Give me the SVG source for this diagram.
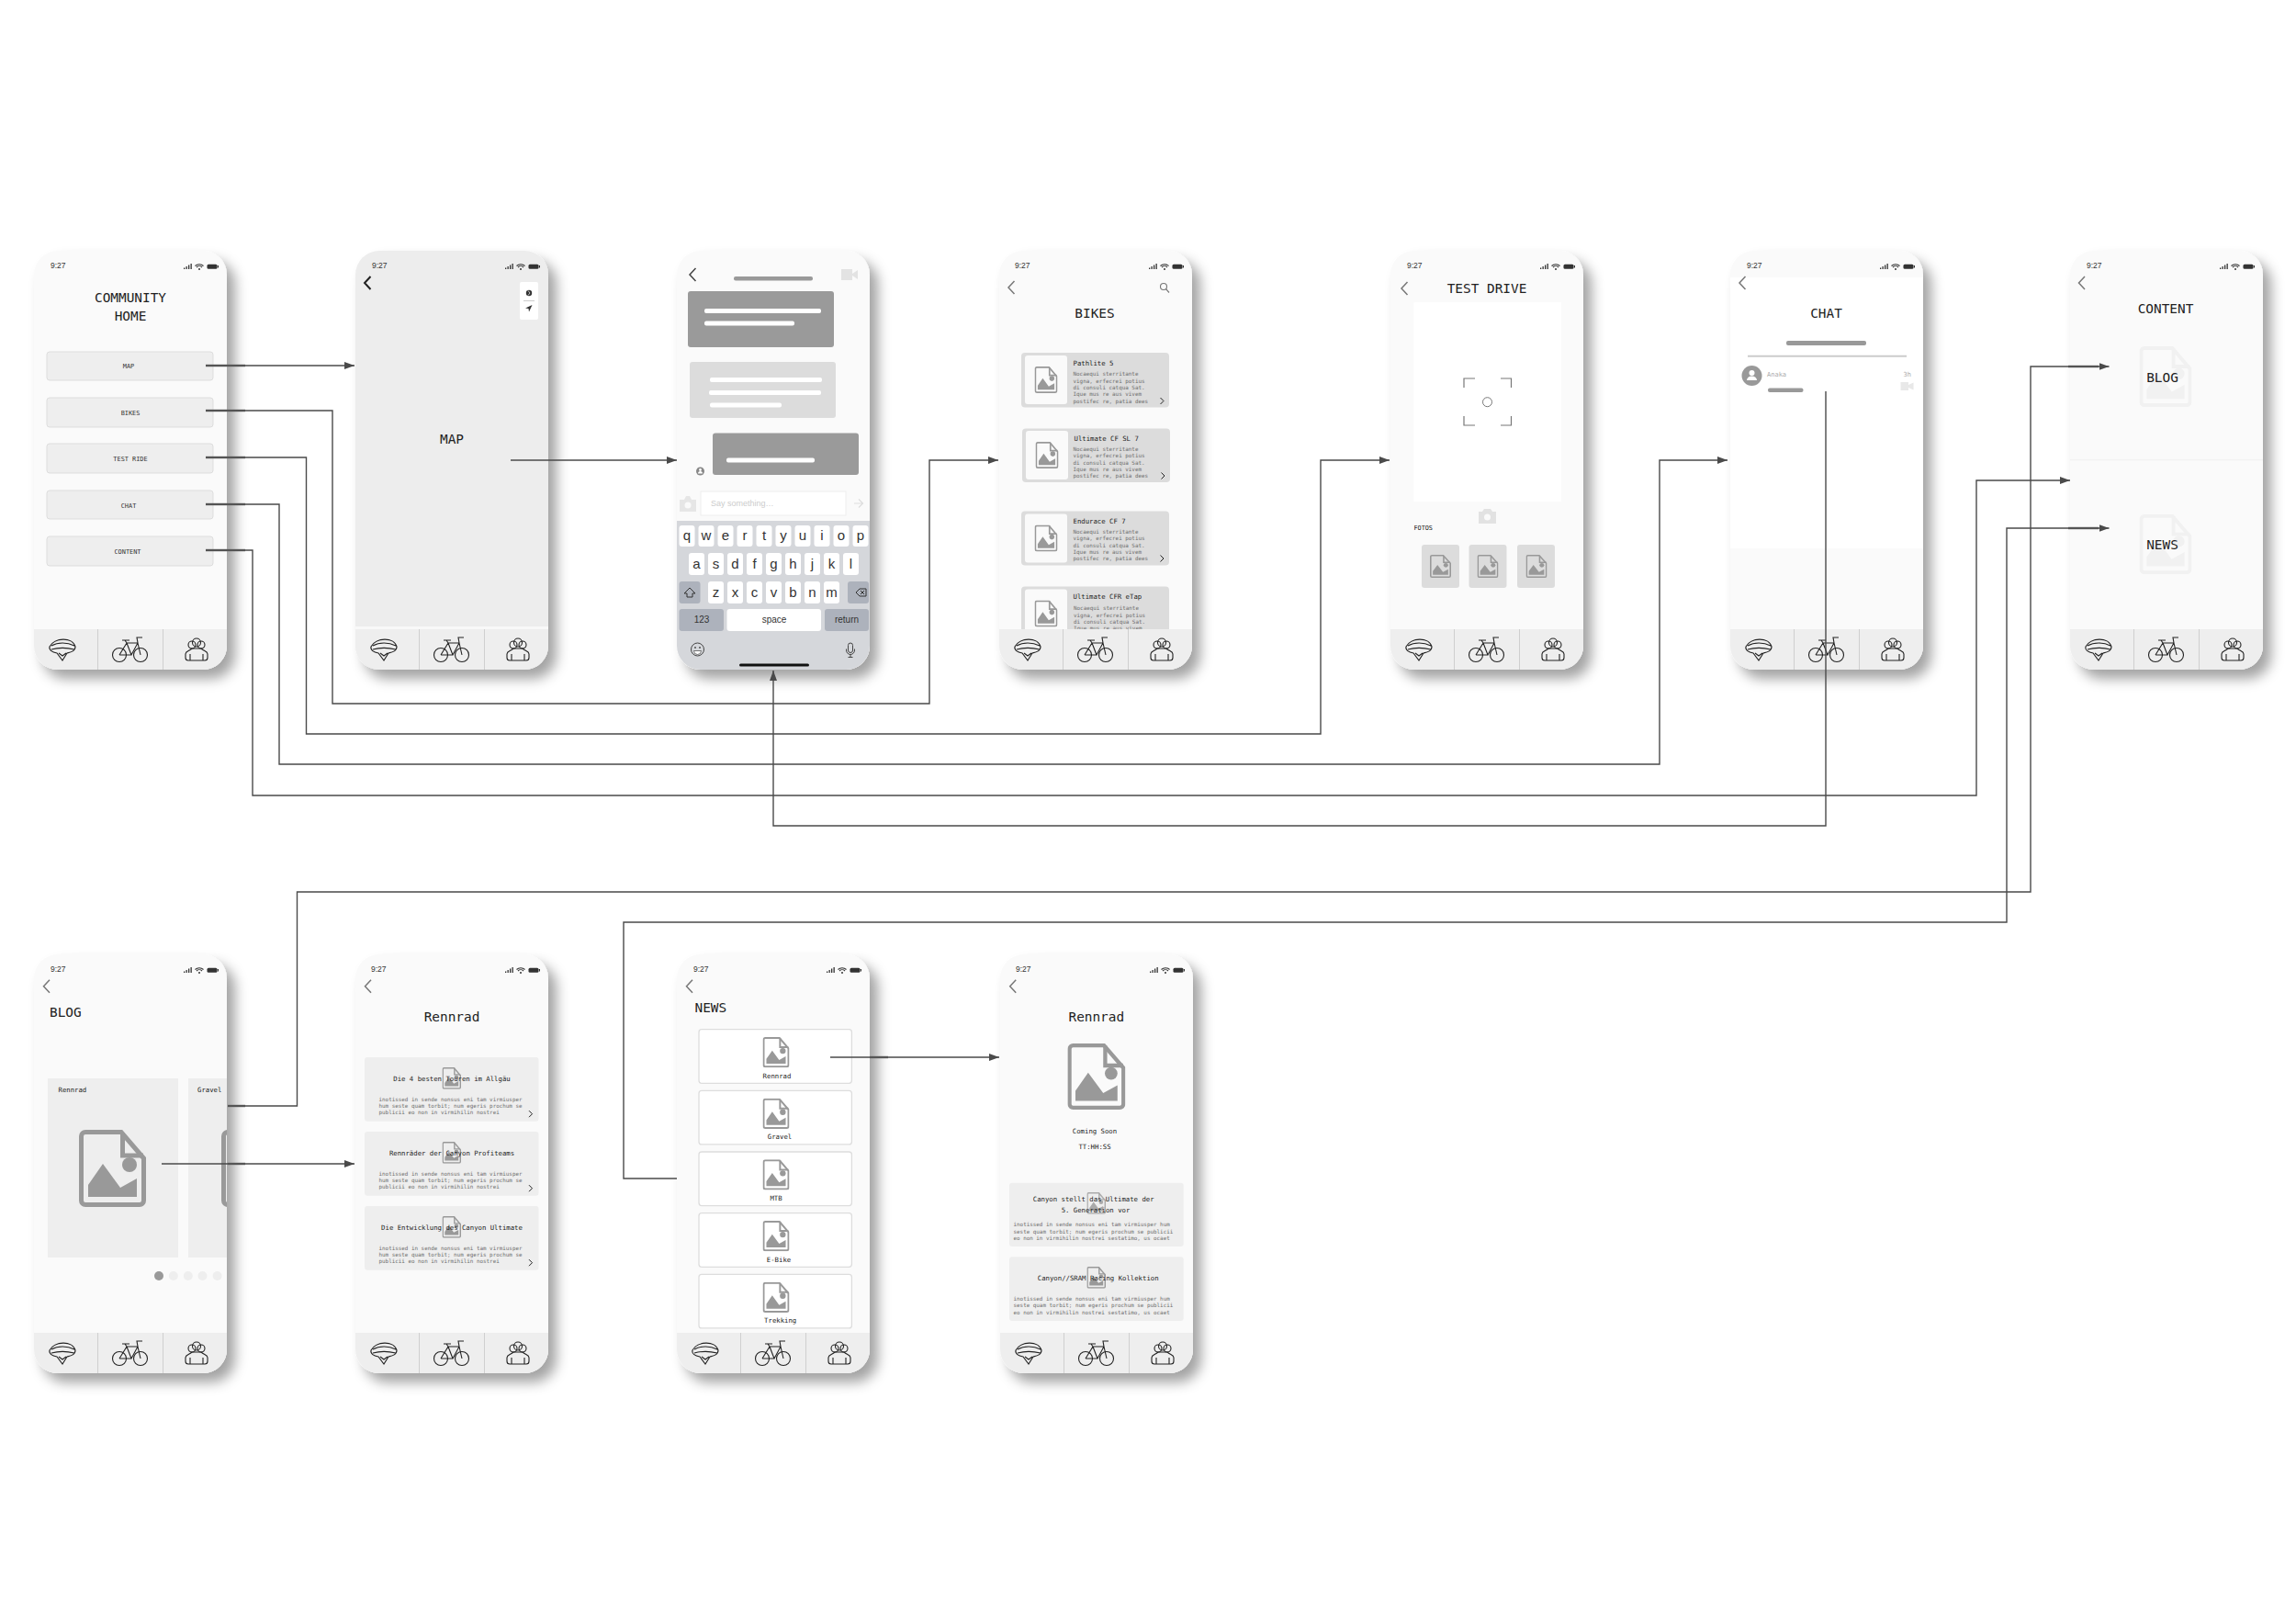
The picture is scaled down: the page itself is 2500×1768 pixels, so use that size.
<svg xmlns="http://www.w3.org/2000/svg" xmlns:xlink="http://www.w3.org/1999/xlink" width="2500" height="1768" viewBox="0 0 2500 1768">
<style>
text{font-family:"DejaVu Sans Mono","Liberation Mono",monospace;fill:#222}
.h{font-size:14.4px}
.m{text-anchor:middle}
.lbl{font-size:6.9px;fill:#333}
.t7{font-size:7.3px;fill:#222}
.b{font-size:5.9px;fill:#6f6f6f}
.time{font-family:"Liberation Sans",sans-serif;font-size:8.5px;fill:#333}
.key{font-family:"Liberation Sans",sans-serif;font-size:15px;text-anchor:middle;fill:#333}
.keyS{font-family:"Liberation Sans",sans-serif;font-size:10px;text-anchor:middle;fill:#333}
.phone{fill:#fafafa;filter:url(#sh)}
.ke{fill:#fff}
.kd{fill:#adb2bc}
.chev{fill:none;stroke:#777;stroke-width:1.5}
.chevB{fill:none;stroke:#222;stroke-width:2}
.mini{fill:none;stroke:#222;stroke-width:1}
.card{fill:#eee}
.cardD{fill:#dcdcdc}
.btn{fill:#eee;stroke:#ddd;stroke-width:1}
.news{fill:#fff;stroke:#ddd;stroke-width:1.3}
.bar{fill:#999}
.wl{fill:#fff}
.line{fill:none;stroke:#4a4a4a;stroke-width:1.4}
.thick{fill:none;stroke:#777;stroke-width:2.4}
.arrow{marker-end:url(#ah)}
</style>
<defs>
<filter id="sh" x="-15%" y="-10%" width="140%" height="125%"><feDropShadow dx="9" dy="10" stdDeviation="7" flood-color="#000" flood-opacity=".36"/></filter>
<marker id="ah" markerUnits="userSpaceOnUse" markerWidth="12" markerHeight="10" refX="11" refY="4" orient="auto"><path d="M0 0L11 4L0 8Z" fill="#4a4a4a"/></marker>
<clipPath id="blogClip"><rect x="37" y="1039" width="210" height="456"/></clipPath>
<symbol id="file" viewBox="0 0 73 84" preserveAspectRatio="none">
<path d="M7 2.5H46L70.5 31V77a4.500 4.500 0 0 1-4.500 4.500H7a4.500 4.500 0 0 1-4.500-4.500V7a4.500 4.500 0 0 1 4.500-4.500Z" fill="none" stroke="currentColor" stroke-width="5"/>
<path d="M47.500 3V28H70" fill="none" stroke="currentColor" stroke-width="5"/>
<path d="M10 73V60L26 37L45 63L63 53V73Z" fill="currentColor"/><circle cx="55" cy="38" r="8" fill="currentColor"/>
</symbol>
<g id="status">
<path d="M163 20v-1.500h1.300V20zM165.500 20v-3h1.300v3zM168 20v-4.500h1.300V20zM170.500 20v-6h1.300v6z" fill="#333"/>
<path d="M175.500 16.500a6.500 6.500 0 0 1 9 0M177 18a4.300 4.300 0 0 1 6 0" fill="none" stroke="#333" stroke-width="1.100"/><circle cx="180" cy="20" r="1" fill="#333"/>
<rect x="188.500" y="14.800" width="11" height="5" rx="1.500" fill="#333"/><rect x="200" y="16" width="1" height="2.500" fill="#333"/>
</g>
<g id="tab">
<path d="M0 412H210V430a26 26 0 0 1-26 26H26a26 26 0 0 1-26-26Z" fill="#eee"/>
<path d="M69.500 412V456M140.500 412V456" stroke="#cfcfcf" stroke-width="1"/>
<g fill="none" stroke="#222" stroke-width="1.100">
<path d="M17 431C22 421 42 420 45 431C45 436 40 437 36 438L31 446L25 438C20 437 16 435 17 431ZM19 430C26 426 36 426 44 430M19 434C26 432 36 432 44 434M27 438L31 441L35 438"/>
<circle cx="93" cy="440" r="7.500"/><circle cx="116" cy="440" r="7.500"/>
<path d="M93 440L101 427H113L116 440M101 427L106 440H93M106 440L113 427L112 421H118M96 424H104M99 424L101 427"/>
<circle cx="177" cy="426.500" r="4.500"/><circle cx="172" cy="429" r="4"/><circle cx="182" cy="429" r="4"/>
<path d="M168 446H186C188 446 189 445 189 443V439C189 436 185 436 182 433H172C169 436 165 436 165 439V443C165 445 166 446 168 446ZM170 446V439M184 446V439"/>
</g>
</g>
<path id="chev" d="M3.500-7L-3 0L3.500 7"/>
<path id="mini" d="M-1.500-3.500L2 0L-1.500 3.500"/>
</defs>
<rect width="2500" height="1768" fill="#fff"/>

<g id="community-home">
<rect class="phone" x="37" y="273" width="210" height="456" rx="26"/>
<text class="time" x="55" y="292">9:27</text><use href="#status" x="37" y="273"/>
<text class="h m" x="142" y="329">COMMUNITY</text>
<text class="h m" x="142" y="349">HOME</text>
<rect class="btn" x="51" y="383" width="181" height="31" rx="3"/><text class="lbl m" x="140" y="401">MAP</text>
<rect class="btn" x="51" y="433" width="181" height="32" rx="3"/><text class="lbl m" x="142" y="452">BIKES</text>
<rect class="btn" x="51" y="483" width="181" height="32" rx="3"/><text class="lbl m" x="142" y="502">TEST RIDE</text>
<rect class="btn" x="51" y="534" width="181" height="31" rx="3"/><text class="lbl m" x="140" y="553">CHAT</text>
<rect class="btn" x="51" y="584" width="181" height="32" rx="3"/><text class="lbl m" x="139" y="603">CONTENT</text>
<use href="#tab" x="37" y="273"/>
</g>

<g id="map">
<rect class="phone" x="387" y="273" width="210" height="456" rx="26" style="fill:#ededed"/>
<rect x="387" y="682" width="210" height="3" fill="#f8f8f8"/>
<text class="time" x="405" y="292">9:27</text><use href="#status" x="387" y="273"/>
<use href="#chev" class="chevB" x="400" y="308"/>
<rect x="566" y="307" width="20" height="41" rx="2" fill="#fff"/>
<circle cx="576" cy="319" r="3.200" fill="#333"/><path d="M575 316.500L577 319L575 321.500" fill="none" stroke="#fff" stroke-width=".7"/><path d="M570 327.500H582" stroke="#ccc" stroke-width="1"/>
<path d="M579.500 332L572 335.500L575.500 336L576 339.500Z" fill="#333"/>
<text class="h m" x="492" y="483">MAP</text>
<use href="#tab" x="387" y="273"/>
</g>

<g id="chat-conversation">
<rect class="phone" x="737" y="273" width="210" height="456" rx="26"/>
<use href="#chev" class="chev" x="754" y="299" style="stroke:#444"/>
<rect class="bar" x="799" y="301" width="86" height="4.500" rx="2"/>
<path d="M916 293H928V305H916ZM928 298L934 294V304L928 300Z" fill="#e3e3e3"/>
<rect x="749" y="317" width="159" height="61" rx="3" fill="#9a9a9a"/>
<rect class="wl" x="767" y="336" width="127" height="5" rx="2"/><rect class="wl" x="767" y="349.500" width="98" height="5" rx="2"/>
<rect x="751" y="394" width="159" height="61" rx="3" fill="#dcdcdc"/>
<rect class="wl" x="773" y="411" width="122" height="5" rx="2"/><rect class="wl" x="772" y="425" width="122" height="5" rx="2"/><rect class="wl" x="773" y="438.500" width="78" height="5" rx="2"/>
<rect x="776" y="471.500" width="159" height="45.500" rx="3" fill="#9a9a9a"/>
<rect class="wl" x="791" y="498.500" width="96" height="5" rx="2"/>
<circle cx="762.500" cy="513" r="4.500" fill="#888"/><circle cx="762.500" cy="511.500" r="1.400" fill="#fff"/><path d="M760 515.500a2.500 2.500 0 0 1 5 0Z" fill="#fff"/>
<path d="M740 544H745L747 540H751L753 544H758V557H740Z" fill="#e6e6e6"/><circle cx="749" cy="550" r="3.500" fill="#fafafa"/>
<rect x="763" y="535" width="158" height="26" fill="#fff" stroke="#eee"/>
<text x="774" y="551" style="font-family:'Liberation Sans',sans-serif;font-size:9px;fill:#ccc">Say something…</text>
<path d="M930 548H939M935 543.500L939.500 548L935 552.500" fill="none" stroke="#ddd" stroke-width="1.200"/>
<path d="M737 567H947V703a26 26 0 0 1-26 26H763a26 26 0 0 1-26-26Z" fill="#d5d7db"/>
<g class="ke">
<rect x="739.500" y="572" width="17" height="23" rx="3"/><rect x="760.500" y="572" width="17" height="23" rx="3"/><rect x="781.500" y="572" width="17" height="23" rx="3"/><rect x="802.500" y="572" width="17" height="23" rx="3"/><rect x="823.500" y="572" width="17" height="23" rx="3"/><rect x="844.500" y="572" width="17" height="23" rx="3"/><rect x="865.500" y="572" width="17" height="23" rx="3"/><rect x="886.500" y="572" width="17" height="23" rx="3"/><rect x="907.500" y="572" width="17" height="23" rx="3"/><rect x="928.500" y="572" width="17" height="23" rx="3"/>
<rect x="750" y="602" width="17" height="24" rx="3"/><rect x="771" y="602" width="17" height="24" rx="3"/><rect x="792" y="602" width="17" height="24" rx="3"/><rect x="813" y="602" width="17" height="24" rx="3"/><rect x="834" y="602" width="17" height="24" rx="3"/><rect x="855" y="602" width="17" height="24" rx="3"/><rect x="876" y="602" width="17" height="24" rx="3"/><rect x="897" y="602" width="17" height="24" rx="3"/><rect x="918" y="602" width="17" height="24" rx="3"/>
<rect x="771" y="633" width="17" height="24" rx="3"/><rect x="792" y="633" width="17" height="24" rx="3"/><rect x="813" y="633" width="17" height="24" rx="3"/><rect x="834" y="633" width="17" height="24" rx="3"/><rect x="855" y="633" width="17" height="24" rx="3"/><rect x="876" y="633" width="17" height="24" rx="3"/><rect x="897" y="633" width="17" height="24" rx="3"/>
<rect x="791.500" y="663" width="102.500" height="24" rx="3"/>
</g>
<rect class="kd" x="739.500" y="633" width="23" height="24" rx="3"/><rect class="kd" x="923" y="633" width="23" height="24" rx="3"/>
<rect class="kd" x="739.500" y="663" width="48.500" height="24" rx="3"/><rect class="kd" x="898" y="663" width="48" height="24" rx="3"/>
<path d="M751 640L757 646H754V650H748V646H745Z" fill="none" stroke="#333" stroke-width="1"/>
<path d="M932 645L936 641H943V649H936ZM937 643L941 647M941 643L937 647" fill="none" stroke="#333" stroke-width="1"/>
<text class="key" x="748" y="588">q</text><text class="key" x="769" y="588">w</text><text class="key" x="790" y="588">e</text><text class="key" x="811" y="588">r</text><text class="key" x="832" y="588">t</text><text class="key" x="853" y="588">y</text><text class="key" x="874" y="588">u</text><text class="key" x="895" y="588">i</text><text class="key" x="916" y="588">o</text><text class="key" x="937" y="588">p</text>
<text class="key" x="758.500" y="619">a</text><text class="key" x="779.500" y="619">s</text><text class="key" x="800.500" y="619">d</text><text class="key" x="821.500" y="619">f</text><text class="key" x="842.500" y="619">g</text><text class="key" x="863.500" y="619">h</text><text class="key" x="884.500" y="619">j</text><text class="key" x="905.500" y="619">k</text><text class="key" x="926.500" y="619">l</text>
<text class="key" x="779.500" y="650">z</text><text class="key" x="800.500" y="650">x</text><text class="key" x="821.500" y="650">c</text><text class="key" x="842.500" y="650">v</text><text class="key" x="863.500" y="650">b</text><text class="key" x="884.500" y="650">n</text><text class="key" x="905.500" y="650">m</text>
<text class="keyS" x="764" y="678">123</text><text class="keyS" x="843" y="678">space</text><text class="keyS" x="922" y="678">return</text>
<circle cx="759.500" cy="707" r="7" fill="none" stroke="#444" stroke-width="1"/><circle cx="757" cy="705" r="0.900" fill="#444"/><circle cx="762" cy="705" r="0.900" fill="#444"/><path d="M755.500 708.500H763.500a4 4 0 0 1-8 0Z" fill="#fff" stroke="#444" stroke-width=".7"/>
<path d="M926 700a2.500 2.500 0 0 1 2.500 2.500V708a2.500 2.500 0 0 1-5 0V702.500A2.500 2.500 0 0 1 926 700ZM921.500 706.500V708a4.500 4.500 0 0 0 9 0V706.500M926 712.500V715M923.500 715.500H928.500" fill="none" stroke="#444" stroke-width="1"/>
<rect x="805" y="722.500" width="76" height="3" rx="1.500" fill="#111"/>
</g>

<g id="bikes">
<rect class="phone" x="1088" y="273" width="210" height="456" rx="26"/>
<text class="time" x="1105" y="292">9:27</text><use href="#status" x="1088" y="273"/>
<use href="#chev" class="chev" x="1101" y="313"/>
<circle cx="1267" cy="312" r="3.500" fill="none" stroke="#777" stroke-width="1.100"/><path d="M1269.500 314.500L1273 318.500" stroke="#777" stroke-width="1.200"/>
<text class="h m" x="1192" y="346">BIKES</text>
<rect class="cardD" x="1112" y="384" width="161" height="59.500" rx="4"/><rect x="1116" y="387" width="46" height="53" rx="3" fill="#fafafa"/><use href="#file" x="1126.500" y="399" width="25" height="29" color="#999"/>
<text class="t7" x="1168.500" y="398">Pathlite 5</text>
<text class="b" x="1168.500" y="409">Nocaequi sterritante</text><text class="b" x="1168.500" y="416.500">vigna, erfecrei potius</text><text class="b" x="1168.500" y="424">di consuli catqua Sat.</text><text class="b" x="1168.500" y="431.300">Ique mus re aus vivem</text><text class="b" x="1168.500" y="438.700">postifec re, patia dees</text>
<use href="#mini" class="mini" x="1265" y="436.500"/>
<rect class="cardD" x="1113" y="466.500" width="161" height="58.500" rx="4"/><rect x="1117" y="469" width="46" height="53" rx="3" fill="#fafafa"/><use href="#file" x="1127.500" y="481" width="25" height="29" color="#999"/>
<text class="t7" x="1169.500" y="480">Ultimate CF SL 7</text>
<text class="b" x="1168.500" y="490.700">Nocaequi sterritante</text><text class="b" x="1168.500" y="498">vigna, erfecrei potius</text><text class="b" x="1168.500" y="505.500">di consuli catqua Sat.</text><text class="b" x="1168.500" y="512.800">Ique mus re aus vivem</text><text class="b" x="1168.500" y="520">postifec re, patia dees</text>
<use href="#mini" class="mini" x="1266" y="518"/>
<rect class="cardD" x="1112" y="556.500" width="161" height="59" rx="4"/><rect x="1116" y="559.500" width="46" height="53" rx="3" fill="#fafafa"/><use href="#file" x="1126.500" y="571.500" width="25" height="29" color="#999"/>
<text class="t7" x="1168.500" y="570">Endurace CF 7</text>
<text class="b" x="1168.500" y="580.500">Nocaequi sterritante</text><text class="b" x="1168.500" y="588">vigna, erfecrei potius</text><text class="b" x="1168.500" y="595.500">di consuli catqua Sat.</text><text class="b" x="1168.500" y="603">Ique mus re aus vivem</text><text class="b" x="1168.500" y="610">postifec re, patia dees</text>
<use href="#mini" class="mini" x="1265" y="608"/>
<rect class="cardD" x="1112" y="638.500" width="161" height="50" rx="4"/><rect x="1116" y="641.500" width="46" height="47" rx="3" fill="#fafafa"/><use href="#file" x="1126.500" y="653.500" width="25" height="29" color="#999"/>
<text class="t7" x="1168.500" y="652">Ultimate CFR eTap</text>
<text class="b" x="1169" y="664.300">Nocaequi sterritante</text><text class="b" x="1169" y="671.700">vigna, erfecrei potius</text><text class="b" x="1169" y="679">di consuli catqua Sat.</text><text class="b" x="1169" y="686.400">Ique mus re aus vivem</text>
<use href="#tab" x="1088" y="273"/>
</g>

<g id="test-drive">
<rect class="phone" x="1514" y="273" width="210" height="456" rx="26"/>
<text class="time" x="1532" y="292">9:27</text><use href="#status" x="1514" y="273"/>
<use href="#chev" class="chev" x="1529" y="314"/>
<text class="h m" x="1619" y="319">TEST DRIVE</text>
<rect x="1539.500" y="329" width="160.500" height="217" fill="#fff"/>
<path d="M1594 422V412H1606M1634 412H1645.500V422M1594 453V463H1606M1634 463H1645.500V453" fill="none" stroke="#777" stroke-width="1.200"/>
<circle cx="1619.500" cy="437.700" r="5" fill="none" stroke="#777" stroke-width="1"/>
<path d="M1610 557H1614L1616 554H1623L1625 557H1629V570H1610Z" fill="#e2e2e2"/><circle cx="1619.500" cy="563" r="3.500" fill="#fafafa"/>
<text class="t7" x="1539.500" y="577" style="font-size:6.800px">FOTOS</text>
<rect class="cardD" x="1548" y="593" width="41" height="47" rx="3"/><use href="#file" x="1557" y="604" width="23" height="25" color="#999"/>
<rect class="cardD" x="1599.500" y="593" width="41" height="47" rx="3"/><use href="#file" x="1608.500" y="604" width="23" height="25" color="#999"/>
<rect class="cardD" x="1652" y="593" width="41" height="47" rx="3"/><use href="#file" x="1661.500" y="604" width="23" height="25" color="#999"/>
<use href="#tab" x="1514" y="273"/>
</g>

<g id="chat">
<rect class="phone" x="1884" y="273" width="210" height="456" rx="26"/>
<rect x="1884" y="302" width="210" height="295" fill="#fff"/>
<text class="time" x="1902" y="292">9:27</text><use href="#status" x="1884" y="273"/>
<use href="#chev" class="chev" x="1897" y="308"/>
<text class="h m" x="1988.500" y="346">CHAT</text>
<rect class="bar" x="1945" y="371" width="87" height="5" rx="2"/>
<path d="M1903 387.700H2076" stroke="#ccc" stroke-width="2"/>
<circle cx="1907.500" cy="409" r="11" fill="#999"/><circle cx="1907.500" cy="406" r="3" fill="#fff"/><path d="M1902 414a5.500 4.500 0 0 1 11 0Z" fill="#fff"/>
<text x="1924" y="410" style="font-size:7px;fill:#aaa">Anaka</text>
<text x="2081" y="410" style="font-size:7px;fill:#aaa;text-anchor:end">3h</text>
<rect class="bar" x="1925" y="422.500" width="38.500" height="4.500" rx="2"/>
<path d="M2069.500 416H2078V425H2069.500ZM2078 419L2083.500 416.500V424.500L2078 422Z" fill="#e8e8e8"/>
<use href="#tab" x="1884" y="273"/>
</g>

<g id="content">
<rect class="phone" x="2254" y="273" width="210" height="456" rx="26"/>
<text class="time" x="2272" y="292">9:27</text><use href="#status" x="2254" y="273"/>
<use href="#chev" class="chev" x="2266.500" y="308"/>
<text class="h m" x="2358" y="341">CONTENT</text>
<use href="#file" x="2329.500" y="377" width="57" height="66" color="#f1f1f1"/>
<text class="h m" x="2354.500" y="416">BLOG</text>
<path d="M2254 500.700H2464" stroke="#f3f3f3" stroke-width="1.500"/>
<use href="#file" x="2329.500" y="560" width="57" height="65" color="#f1f1f1"/>
<text class="h m" x="2354.500" y="598">NEWS</text>
<use href="#tab" x="2254" y="273"/>
</g>

<g id="blog">
<rect class="phone" x="37" y="1039" width="210" height="456" rx="26"/>
<text class="time" x="55" y="1058">9:27</text><use href="#status" x="37" y="1039"/>
<use href="#chev" class="chev" x="50.500" y="1073.700"/>
<text class="h" x="54" y="1107">BLOG</text>
<rect class="card" x="52" y="1174" width="142" height="195"/><rect class="card" x="205" y="1174" width="42" height="195"/>
<text class="t7" x="63.500" y="1189">Rennrad</text><text class="t7" x="215" y="1189">Gravel</text>
<use href="#file" x="86" y="1230" width="73" height="84" color="#999"/>
<g clip-path="url(#blogClip)"><use href="#file" x="241" y="1230" width="73" height="84" color="#999"/></g>
<circle cx="173" cy="1389" r="5" fill="#999"/><circle cx="188.800" cy="1389" r="5" fill="#eee"/><circle cx="204.800" cy="1389" r="5" fill="#eee"/><circle cx="220.500" cy="1389" r="5" fill="#eee"/><circle cx="236.600" cy="1389" r="5" fill="#eee"/>
<use href="#tab" x="37" y="1039"/>
</g>

<g id="blog-rennrad">
<rect class="phone" x="387" y="1039" width="210" height="456" rx="26"/>
<text class="time" x="404" y="1058">9:27</text><use href="#status" x="387" y="1039"/>
<use href="#chev" class="chev" x="400.500" y="1073.700"/>
<text class="h m" x="492" y="1112">Rennrad</text>
<rect class="card" x="397" y="1151" width="189.500" height="69.700" rx="3"/><use href="#file" x="481.500" y="1162" width="20.500" height="23.700" color="#999"/>
<text class="t7 m" x="492" y="1177">Die 4 besten Touren im Allgäu</text>
<text class="b" x="412.500" y="1198.700">inotissed in sende nonsus eni tam virmiusper</text><text class="b" x="412.500" y="1206">hum seste quam torbit; num egeris prochum se</text><text class="b" x="412.500" y="1213.300">publicii eo non in virmihilin nostrei</text>
<use href="#mini" class="mini" x="577.500" y="1212.700"/>
<rect class="card" x="397" y="1232" width="189.500" height="69.700" rx="3"/><use href="#file" x="481.500" y="1243" width="20.500" height="23.700" color="#999"/>
<text class="t7 m" x="492" y="1258">Rennräder der Canyon Profiteams</text>
<text class="b" x="412.500" y="1279.700">inotissed in sende nonsus eni tam virmiusper</text><text class="b" x="412.500" y="1287">hum seste quam torbit; num egeris prochum se</text><text class="b" x="412.500" y="1294.300">publicii eo non in virmihilin nostrei</text>
<use href="#mini" class="mini" x="577.500" y="1293.700"/>
<rect class="card" x="397" y="1313" width="189.500" height="69.700" rx="3"/><use href="#file" x="481.500" y="1324" width="20.500" height="23.700" color="#999"/>
<text class="t7 m" x="492" y="1339">Die Entwicklung des Canyon Ultimate</text>
<text class="b" x="412.500" y="1360.700">inotissed in sende nonsus eni tam virmiusper</text><text class="b" x="412.500" y="1368">hum seste quam torbit; num egeris prochum se</text><text class="b" x="412.500" y="1375.300">publicii eo non in virmihilin nostrei</text>
<use href="#mini" class="mini" x="577.500" y="1374.700"/>
<use href="#tab" x="387" y="1039"/>
</g>

<g id="news">
<rect class="phone" x="737" y="1039" width="210" height="456" rx="26"/>
<text class="time" x="755" y="1058">9:27</text><use href="#status" x="737" y="1039"/>
<use href="#chev" class="chev" x="750.500" y="1073.700"/>
<text class="h" x="756.500" y="1102">NEWS</text>
<rect class="news" x="761" y="1120.700" width="166.400" height="58.600" rx="3"/><use href="#file" x="830.500" y="1129" width="29" height="33.300" color="#999"/><text class="t7 m" x="846" y="1173.700">Rennrad</text>
<rect class="news" x="761" y="1187.300" width="166.400" height="58.600" rx="3"/><use href="#file" x="830.500" y="1195.700" width="29" height="33.300" color="#999"/><text class="t7 m" x="849" y="1240.300">Gravel</text>
<rect class="news" x="761" y="1254" width="166.400" height="58.600" rx="3"/><use href="#file" x="830.500" y="1262.300" width="29" height="33.300" color="#999"/><text class="t7 m" x="845" y="1307">MTB</text>
<rect class="news" x="761" y="1320.700" width="166.400" height="58.600" rx="3"/><use href="#file" x="830.500" y="1329" width="29" height="33.300" color="#999"/><text class="t7 m" x="848" y="1373.700">E-Bike</text>
<rect class="news" x="761" y="1387.300" width="166.400" height="58.600" rx="3"/><use href="#file" x="830.500" y="1395.700" width="29" height="33.300" color="#999"/><text class="t7 m" x="849.700" y="1440.300">Trekking</text>
<use href="#tab" x="737" y="1039"/>
</g>

<g id="news-rennrad">
<rect class="phone" x="1089" y="1039" width="210" height="456" rx="26"/>
<text class="time" x="1106" y="1058">9:27</text><use href="#status" x="1089" y="1039"/>
<use href="#chev" class="chev" x="1102.700" y="1073.700"/>
<text class="h m" x="1193.800" y="1112">Rennrad</text>
<use href="#file" x="1162.400" y="1136" width="63" height="72" color="#999"/>
<text class="t7 m" x="1192" y="1234">Coming Soon</text>
<text class="t7 m" x="1192" y="1251">TT:HH:SS</text>
<rect class="card" x="1099" y="1287.700" width="189.700" height="69.300" rx="3"/><use href="#file" x="1183.400" y="1298" width="20.600" height="23.700" color="#aaa"/>
<text class="t7 m" x="1190.700" y="1308">Canyon stellt das Ultimate der</text>
<text class="t7 m" x="1193" y="1320">5. Generation vor</text>
<text class="b" x="1103.500" y="1335">inotissed in sende nonsus eni tam virmiusper hum</text><text class="b" x="1103.500" y="1342.600">seste quam torbit; num egeris prochum se publicii</text><text class="b" x="1103.500" y="1350">eo non in virmihilin nostrei sestatimo, us ocaet</text>
<rect class="card" x="1099" y="1368.300" width="189.700" height="69.700" rx="3"/><use href="#file" x="1183.400" y="1379" width="20.600" height="23.700" color="#999"/>
<text class="t7 m" x="1195.700" y="1394">Canyon//SRAM Racing Kollektion</text>
<text class="b" x="1103.500" y="1415.700">inotissed in sende nonsus eni tam virmiusper hum</text><text class="b" x="1103.500" y="1423">seste quam torbit; num egeris prochum se publicii</text><text class="b" x="1103.500" y="1430.700">eo non in virmihilin nostrei sestatimo, us ocaet</text>
<use href="#tab" x="1089" y="1039"/>
</g>

<g id="connectors">
<path class="thick" d="M224 398H267M224 447H267M224 498H267M224 549H267M224 599H267M248 1204H267M248 1267H267M947 1151H967M2252 399H2285M2252 575H2285"/>
<path class="line arrow" d="M224 398H386"/>
<path class="line arrow" d="M224 447H362V766H1012V501H1087"/>
<path class="line arrow" d="M224 498H333.500V799H1438V501H1513"/>
<path class="line arrow" d="M224 549H304V832H1807V501H1881"/>
<path class="line arrow" d="M224 599H275V866H2152V523H2254"/>
<path class="line arrow" d="M1988 426V899H842V730"/>
<path class="line arrow" d="M248 1204H323.500V971H2211V399H2296.500"/>
<path class="line arrow" d="M737 1283H679V1004H2185V575H2296.500"/>
<path class="line arrow" d="M556 501H737"/>
<path class="line arrow" d="M176 1267H386"/>
<path class="line arrow" d="M904 1151H1088"/>
</g>
</svg>
